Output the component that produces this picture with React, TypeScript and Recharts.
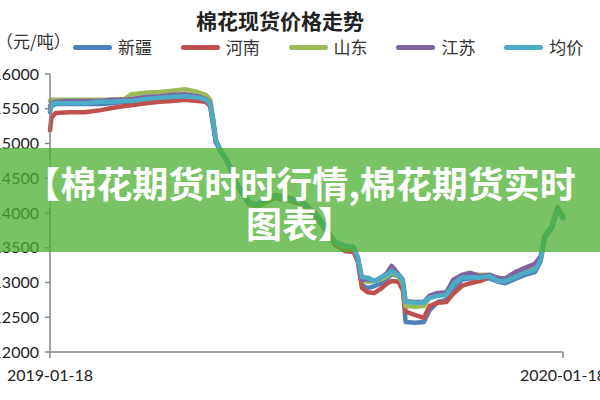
import React from 'react';
import { LineChart, Line, XAxis, YAxis, Legend } from 'recharts';

// Day offsets from 2019-01-18
const days = [0,1,4,14,25,36,44,53,58,68,78,87,96,105,111,114,116,118,121,127,132,137,142,148,154,160,167,174,181,189,196,203,210,216,219,222,226,231,236,240,243,248,251,253,260,266,270,276,282,287,293,299,306,313,319,324,331,338,345,349,352,357,361,365];

const xinjiang = [15450,15540,15570,15570,15570,15570,15580,15600,15600,15630,15640,15650,15670,15640,15600,15540,15270,15010,14910,14720,14450,14300,14140,14120,14190,14250,14220,14190,14130,13970,13780,13580,13510,13500,13320,12960,12920,12950,12990,13060,13120,13090,12960,12430,12420,12430,12600,12720,12750,12890,13040,13060,13040,13060,13010,12990,13050,13110,13150,13300,13640,13780,14040,13930];
const henan = [15190,15370,15440,15450,15450,15480,15510,15540,15550,15580,15600,15610,15630,15610,15600,15540,15310,15050,14910,14690,14420,14270,14120,14090,14160,14220,14190,14160,14100,13940,13760,13540,13450,13440,13300,12920,12860,12850,12920,12990,13020,13010,12890,12580,12530,12490,12660,12710,12720,12840,12950,12990,13020,13090,13070,13040,13110,13170,13210,13320,13660,13800,14070,13940];
const shandong = [15610,15630,15630,15630,15630,15630,15630,15640,15710,15730,15740,15760,15780,15740,15700,15630,15370,15050,14910,14710,14420,14290,14130,14100,14170,14230,14200,14190,14120,13970,13780,13570,13510,13500,13350,13040,13010,13020,13050,13090,13150,13090,12990,12660,12650,12660,12780,12820,12830,12980,13090,13120,13110,13110,13040,13050,13120,13180,13220,13350,13670,13810,14090,13960];
const jiangsu = [15540,15580,15600,15610,15610,15610,15630,15630,15640,15670,15680,15700,15710,15680,15640,15580,15340,15040,14910,14720,14450,14300,14140,14130,14200,14260,14230,14200,14140,13990,13800,13580,13530,13510,13350,13040,13050,13020,13080,13140,13240,13120,13040,12730,12720,12720,12810,12850,12860,13040,13110,13140,13090,13110,13060,13060,13150,13210,13270,13370,13670,13800,14060,13940];
const average = [15480,15570,15580,15580,15580,15600,15600,15610,15610,15640,15660,15670,15680,15660,15630,15570,15340,15050,14910,14720,14450,14300,14140,14120,14190,14250,14220,14190,14130,13970,13780,13580,13530,13510,13370,13080,13070,13020,13080,13120,13170,13110,13020,12720,12710,12710,12780,12810,12820,12980,13070,13080,13070,13090,13020,13020,13080,13140,13180,13320,13660,13800,14040,13930];

const seriesNames = ['新疆', '河南', '山东', '江苏', '均价'];
const seriesKeys = ['xj', 'hn', 'sd', 'js', 'avg'];
const seriesColors = ['#4F81BD', '#C0504D', '#9BBB59', '#8064A2', '#4BACC6'];
const seriesValues = [xinjiang, henan, shandong, jiangsu, average];

const tickDays = [0, 365];
const tickLabels = ['2019-01-18', '2020-01-18'];
const yTicks = [12000, 12500, 13000, 13500, 14000, 14500, 15000, 15500, 16000];

const title = '棉花现货价格走势';
const unitLabel = '（元/吨）';
const bannerLine1 = '【棉花期货时时行情,棉花期货实时';
const bannerLine2 = '图表】';

const data = days.map((d, i) => {
  const row: Record<string, number> = { day: d };
  seriesKeys.forEach((k, j) => { row[k] = seriesValues[j][i]; });
  return row;
});

const LegendContent = () => (
  <div style={{ position: 'relative', width: 600, height: 24 }}>
    {seriesNames.map((name, i) => (
      <div key={name} style={{ position: 'absolute', left: 73 + i * 107.8, top: 0, height: 24, display: 'flex', alignItems: 'center' }}>
        <div style={{ width: 39, height: 5, borderRadius: 2.5, background: seriesColors[i] }} />
        <span style={{ marginLeft: 6, fontSize: 17, color: '#333', fontFamily: '"Noto Sans CJK SC", sans-serif', lineHeight: '24px' }}>{name}</span>
      </div>
    ))}
  </div>
);

export default function App() {
  return (
    <div style={{ position: 'absolute', left: 0, top: 0, width: 600, height: 400, overflow: 'hidden', background: '#fff', fontFamily: 'Lato, "Noto Sans CJK SC", sans-serif' }}>
      <LineChart width={600} height={400} data={data} margin={{ top: 74, right: 37, bottom: 18, left: 0 }}>
        <XAxis
          dataKey="day"
          type="number"
          domain={[0, 365]}
          ticks={tickDays}
          interval={0}
          tickFormatter={(v: number) => tickLabels[tickDays.indexOf(v)] ?? ''}
          height={30}
          tickSize={6}
          tickMargin={12}
          axisLine={{ stroke: '#868686', strokeWidth: 1.5 }}
          tickLine={{ stroke: '#868686', strokeWidth: 1.5 }}
          tick={{ fontSize: 16, fill: '#222', fontFamily: 'Lato' }}
        />
        <YAxis
          type="number"
          domain={[12000, 16000]}
          ticks={yTicks}
          interval={0}
          width={50}
          tickSize={5}
          tickMargin={6}
          axisLine={{ stroke: '#868686', strokeWidth: 1.5 }}
          tickLine={{ stroke: '#868686', strokeWidth: 1.5 }}
          tick={{ fontSize: 16, fill: '#222', fontFamily: 'Lato' }}
        />
        <Legend verticalAlign="middle" align="center" layout="horizontal" wrapperStyle={{ top: 35, left: 0, width: 600, height: 24 }} content={LegendContent} />
        {seriesKeys.map((k, i) => (
          <Line
            key={k}
            dataKey={k}
            name={seriesNames[i]}
            type="linear"
            stroke={seriesColors[i]}
            strokeWidth={4.5}
            strokeLinejoin="round"
            strokeLinecap="round"
            dot={false}
            activeDot={false}
            isAnimationActive={false}
          />
        ))}
      </LineChart>
      <div style={{ position: 'absolute', left: 0, width: 560, top: 8, textAlign: 'center', fontSize: 21, fontWeight: 700, color: '#222', fontFamily: '"Noto Sans CJK SC", sans-serif', lineHeight: '24px' }}>{title}</div>
      <div style={{ position: 'absolute', left: -4, top: 29, fontSize: 17, color: '#333', fontFamily: '"Noto Sans CJK SC", sans-serif', lineHeight: '24px', whiteSpace: 'nowrap' }}>{unitLabel}</div>
      <div style={{ position: 'absolute', left: 0, top: 148, width: 600, height: 104, background: 'rgba(75,176,48,0.75)', color: '#fff', textAlign: 'center', fontSize: 36, fontWeight: 700, fontFamily: '"Noto Sans CJK SC", sans-serif', lineHeight: '40px', paddingTop: 14, boxSizing: 'border-box' }}>
        <div style={{ whiteSpace: 'nowrap' }}>{bannerLine1}</div>
        <div style={{ whiteSpace: 'nowrap' }}>{bannerLine2}</div>
      </div>
    </div>
  );
}
